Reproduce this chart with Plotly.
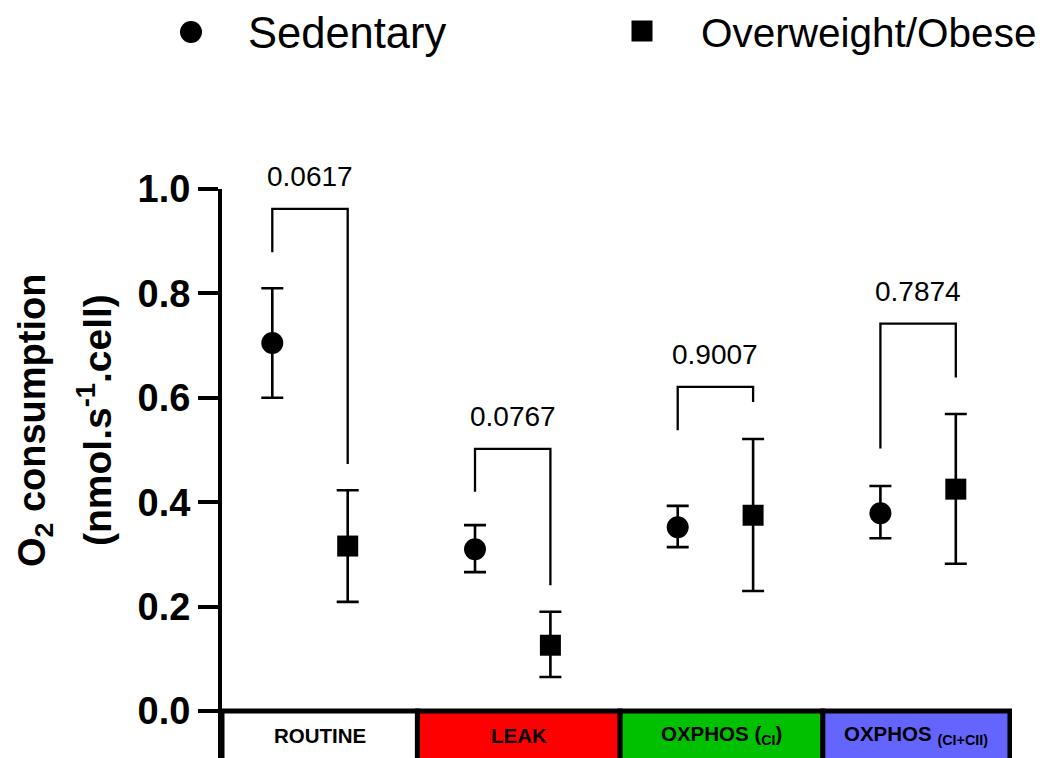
import plotly.graph_objects as go

# ---------------- data ----------------
categories = ["ROUTINE", "LEAK", "OXPHOS (CI)", "OXPHOS (CI+CII)"]
category_labels = ["ROUTINE", "LEAK", "OXPHOS (<sub>CI</sub>)", "OXPHOS <sub>(CI+CII)</sub>"]
box_colors = ["#ffffff", "#ff0000", "#00c000", "#6464ff"]

sed_mean = [0.705, 0.310, 0.352, 0.379]
sed_upper = [0.810, 0.356, 0.393, 0.431]
sed_lower = [0.600, 0.266, 0.314, 0.331]

ow_mean = [0.316, 0.126, 0.375, 0.425]
ow_upper = [0.423, 0.190, 0.521, 0.569]
ow_lower = [0.209, 0.065, 0.230, 0.282]

p_values = ["0.0617", "0.0767", "0.9007", "0.7874"]
bracket_top = [0.962, 0.502, 0.621, 0.742]
bracket_left_end = [0.879, 0.420, 0.538, 0.503]
bracket_right_end = [0.473, 0.241, 0.592, 0.639]

y_ticks = [0.0, 0.2, 0.4, 0.6, 0.8, 1.0]
y_tick_labels = ["0.0", "0.2", "0.4", "0.6", "0.8", "1.0"]

series_names = ["Sedentary", "Overweight/Obese"]

# ---------------- layout geometry ----------------
# the page body has an 8px margin, so the figure is drawn 8px in from the corner
OFF = 8
W, H = 1050 - OFF, 758 - OFF
L, R, T, B = 222 - OFF, 38, 189 - OFF, 0
pw = W - L - R
ph = H - T - B
FONT = "Liberation Sans, Arial, Helvetica, sans-serif"

def px_x(p):
    """screen pixel (x) -> paper fraction"""
    return (p - OFF - L) / pw

def px_y(p):
    """screen pixel (y) -> paper fraction"""
    return (H - B - (p - OFF)) / ph

unit = 202.7                 # pixels per category step
first_center = 310.0 - OFF   # pixel of first category center (figure coords)
x_min = (L - first_center) / unit
x_max = (W - R - first_center) / unit
y_min = -(H - B - (711 - OFF)) / 522.0
off = 0.186

idx = list(range(len(categories)))
x_sed = [i - off for i in idx]
x_ow = [i + off for i in idx]

fig = go.Figure()

fig.add_trace(go.Scatter(
    x=x_sed, y=sed_mean, mode="markers", name=series_names[0],
    marker=dict(symbol="circle", size=22, color="black"),
    error_y=dict(type="data", symmetric=False,
                 array=[u - m for u, m in zip(sed_upper, sed_mean)],
                 arrayminus=[m - l for m, l in zip(sed_mean, sed_lower)],
                 color="black", thickness=2.6, width=11),
    showlegend=False, cliponaxis=False,
))
fig.add_trace(go.Scatter(
    x=x_ow, y=ow_mean, mode="markers", name=series_names[1],
    marker=dict(symbol="square", size=21, color="black"),
    error_y=dict(type="data", symmetric=False,
                 array=[u - m for u, m in zip(ow_upper, ow_mean)],
                 arrayminus=[m - l for m, l in zip(ow_mean, ow_lower)],
                 color="black", thickness=2.6, width=11),
    showlegend=False, cliponaxis=False,
))

shapes = []
annotations = []

# category boxes under the axis
bounds = [x_min] + [i + 0.53 for i in idx[:-1]] + [x_max - 0.01]
for i in idx:
    shapes.append(dict(type="rect", xref="x", yref="y",
                       x0=bounds[i], x1=bounds[i + 1], y0=y_min - 0.05, y1=0,
                       fillcolor=box_colors[i], line=dict(color="black", width=5),
                       layer="below"))
    annotations.append(dict(x=(bounds[i] + bounds[i + 1]) / 2, y=-0.046, xref="x", yref="y",
                            text="<b>%s</b>" % category_labels[i], showarrow=False,
                            xanchor="center", yanchor="middle",
                            font=dict(family=FONT, size=20.5, color="black")))

# significance brackets
for i in idx:
    path = "M %f,%f L %f,%f L %f,%f L %f,%f" % (
        x_sed[i], bracket_left_end[i], x_sed[i], bracket_top[i],
        x_ow[i], bracket_top[i], x_ow[i], bracket_right_end[i])
    shapes.append(dict(type="path", xref="x", yref="y", path=path,
                       line=dict(color="black", width=2.3)))
    annotations.append(dict(x=idx[i], y=bracket_top[i], xref="x", yref="y",
                            text=p_values[i], showarrow=False, yshift=32,
                            xanchor="center", yanchor="middle",
                            font=dict(family=FONT, size=28, color="black")))

# custom legend
shapes.append(dict(type="circle", xref="paper", yref="paper",
                   x0=px_x(180), x1=px_x(202), y0=px_y(43), y1=px_y(21),
                   fillcolor="black", line=dict(color="black", width=0)))
shapes.append(dict(type="rect", xref="paper", yref="paper",
                   x0=px_x(631.5), x1=px_x(652.5), y0=px_y(41.5), y1=px_y(20.5),
                   fillcolor="black", line=dict(color="black", width=0)))
annotations.append(dict(x=px_x(246), y=px_y(33), xref="paper", yref="paper",
                        text=series_names[0], showarrow=False,
                        xanchor="left", yanchor="middle",
                        font=dict(family=FONT, size=43.5, color="black")))
annotations.append(dict(x=px_x(699), y=px_y(33), xref="paper", yref="paper",
                        text=series_names[1], showarrow=False,
                        xanchor="left", yanchor="middle",
                        font=dict(family=FONT, size=40.5, color="black")))

# y-axis title (two lines)
annotations.append(dict(x=px_x(35), y=px_y(421), xref="paper", yref="paper",
                        text="<b>O<sub>2</sub> consumption</b>", showarrow=False,
                        textangle=-90, xanchor="center", yanchor="middle",
                        font=dict(family=FONT, size=38, color="black")))
annotations.append(dict(x=px_x(94), y=px_y(420), xref="paper", yref="paper",
                        text="<b>(nmol.s<sup>-1</sup>.cell)</b>", showarrow=False,
                        textangle=-90, xanchor="center", yanchor="middle",
                        font=dict(family=FONT, size=39, color="black")))

fig.update_layout(
    width=W, height=H,
    margin=dict(l=L, r=R, t=T, b=B, pad=0),
    paper_bgcolor="white", plot_bgcolor="white",
    showlegend=False,
    shapes=shapes, annotations=annotations,
    font=dict(family=FONT, color="black"),
    xaxis=dict(range=[x_min, x_max], showgrid=False, zeroline=False,
               showticklabels=False, ticks="", showline=False, fixedrange=True),
    yaxis=dict(range=[y_min, 1.0], showgrid=False, zeroline=False,
               tickmode="array", tickvals=y_ticks, ticktext=y_tick_labels,
               ticks="outside", ticklen=20, tickwidth=3.5, tickcolor="black",
               showline=True, linewidth=4, linecolor="black",
               tickfont=dict(family=FONT, size=38, color="black", weight="bold"),
               fixedrange=True),
)

fig.write_html("out.html")
